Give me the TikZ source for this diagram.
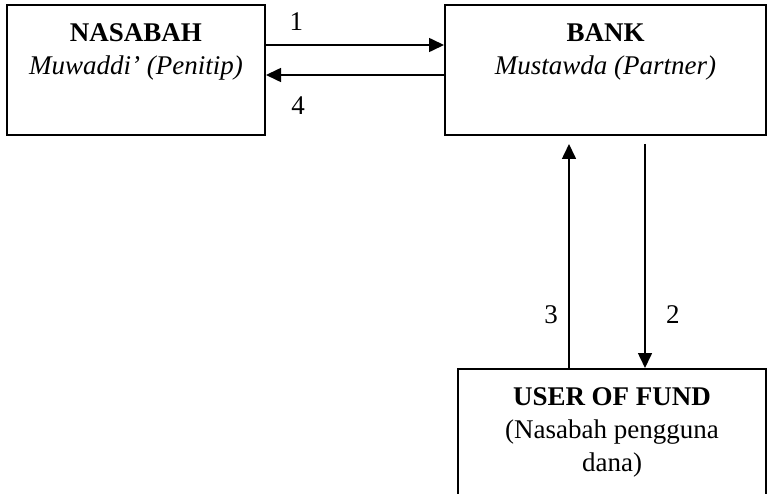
\documentclass[tikz,border=0pt]{standalone}
\usepackage{fontspec}
\setmainfont{Liberation Serif}
\usetikzlibrary{positioning,calc,arrows.meta}

\tikzset{
  box/.style = {draw, line width=2pt, minimum height=130pt, inner sep=0pt},
  boxtext/.style = {align=center, font=\fontsize{27}{33}\selectfont},
  flow/.style = {draw, line width=1.6pt, -{Triangle[length=15pt,width=14pt]}},
  num/.style = {font=\fontsize{27}{30}\selectfont}
}

\begin{document}
\begin{tikzpicture}[x=1pt,y=-1pt]
    \useasboundingbox (0,0) rectangle (767,494);
    \clip (0,0) rectangle (767,494);

    \node[box,minimum width=258pt] (nasabah) at (136,70) {};
    \node[box,minimum width=321pt,right = 178pt of nasabah] (bank) {};
    \node[box,minimum width=308pt,minimum height=150pt,
          below right = 232pt and 13pt of bank.south west] (user) {};

    \node[boxtext,below = 16pt of nasabah.north] (nasabahtxt)
        {\textbf{NASABAH}\\\textit{Muwaddi’ (Penitip)}};
    \node[boxtext,below = 16pt of bank.north] (banktxt)
        {\textbf{BANK}\\\textit{Mustawda (Partner)}};
    \node[boxtext,below = 16pt of user.north] (usertxt)
        {\textbf{USER OF FUND}\\(Nasabah pengguna\\dana)};

    \coordinate (b3) at ([xshift=-36.5pt,yshift=-8pt]bank.south);
    \coordinate (b2) at ([xshift=39.5pt,yshift=-8pt]bank.south);

    \draw[flow] ([yshift=25pt]nasabah.east) -- ([yshift=25pt]bank.west)
        node[num,pos=0.17,above=10.5pt] {1};
    \draw[flow] ([yshift=-5pt]bank.west) -- ([yshift=-5pt]nasabah.east)
        node[num,pos=0.82,below=18pt] {4};
    \draw[flow] (user.north -| b3) -- (b3) node[num,pos=0.24,left=7pt] {3};
    \draw[flow] (b2) -- (user.north -| b2) node[num,pos=0.76,right=17pt] {2};
\end{tikzpicture}
\end{document}
